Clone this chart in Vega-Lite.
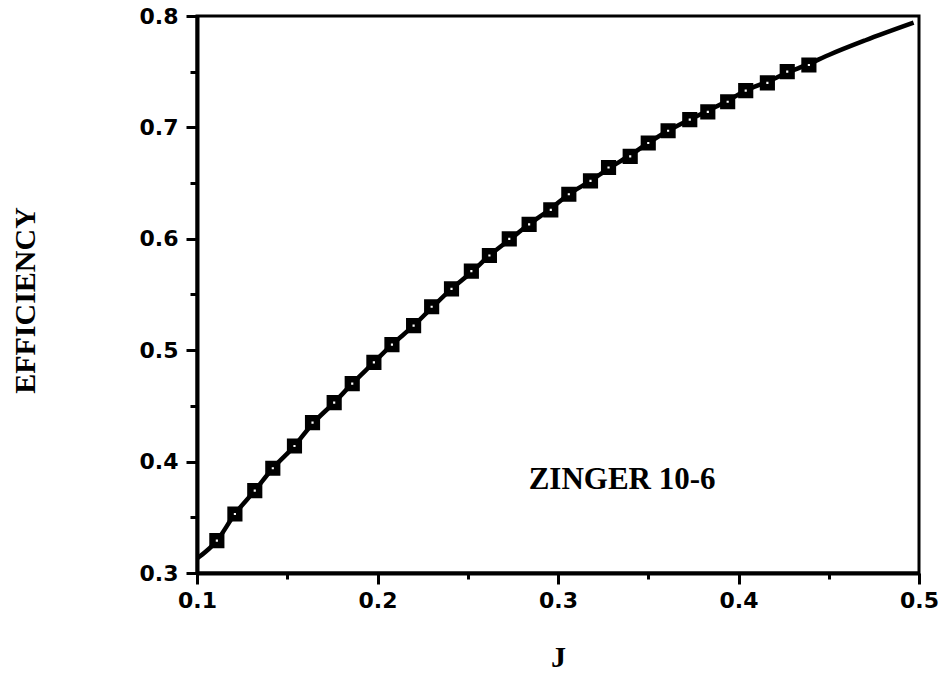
{
  "$schema": "https://vega.github.io/schema/vega-lite/v6.json",
  "autosize": "none",
  "width": 722,
  "height": 557,
  "padding": {"left": 197, "top": 16, "right": 29, "bottom": 102},
  "background": "white",
  "config": {
    "view": {"stroke": "black", "strokeWidth": 3},
    "axis": {
      "grid": false,
      "domainColor": "black",
      "domainWidth": 4,
      "tickColor": "black",
      "tickWidth": 3,
      "labelFont": "DejaVu Sans",
      "labelFontSize": 22,
      "labelFontWeight": "bold",
      "labelColor": "black",
      "labelFlush": false,
      "labelOverlap": false,
      "titleFont": "Liberation Serif",
      "titleFontWeight": "bold",
      "titleColor": "black",
      "titleFontSize": 30
    }
  },
  "datasets": {
    "curve": [
      {"J": 0.100, "eff": 0.313},
      {"J": 0.111, "eff": 0.329},
      {"J": 0.121, "eff": 0.353},
      {"J": 0.132, "eff": 0.374},
      {"J": 0.142, "eff": 0.394},
      {"J": 0.154, "eff": 0.414},
      {"J": 0.164, "eff": 0.434},
      {"J": 0.176, "eff": 0.453},
      {"J": 0.186, "eff": 0.470},
      {"J": 0.198, "eff": 0.489},
      {"J": 0.208, "eff": 0.505},
      {"J": 0.220, "eff": 0.522},
      {"J": 0.230, "eff": 0.538},
      {"J": 0.241, "eff": 0.555},
      {"J": 0.252, "eff": 0.570},
      {"J": 0.262, "eff": 0.585},
      {"J": 0.273, "eff": 0.599},
      {"J": 0.284, "eff": 0.613},
      {"J": 0.296, "eff": 0.627},
      {"J": 0.306, "eff": 0.640},
      {"J": 0.318, "eff": 0.652},
      {"J": 0.328, "eff": 0.663},
      {"J": 0.340, "eff": 0.675},
      {"J": 0.350, "eff": 0.686},
      {"J": 0.361, "eff": 0.697},
      {"J": 0.373, "eff": 0.707},
      {"J": 0.383, "eff": 0.715},
      {"J": 0.394, "eff": 0.724},
      {"J": 0.404, "eff": 0.733},
      {"J": 0.416, "eff": 0.741},
      {"J": 0.427, "eff": 0.749},
      {"J": 0.439, "eff": 0.757},
      {"J": 0.450, "eff": 0.765},
      {"J": 0.470, "eff": 0.778},
      {"J": 0.497, "eff": 0.794}
    ],
    "points": [
      {"J": 0.111, "eff": 0.329},
      {"J": 0.121, "eff": 0.353},
      {"J": 0.132, "eff": 0.374},
      {"J": 0.142, "eff": 0.394},
      {"J": 0.154, "eff": 0.414},
      {"J": 0.164, "eff": 0.435},
      {"J": 0.176, "eff": 0.453},
      {"J": 0.186, "eff": 0.470},
      {"J": 0.198, "eff": 0.489},
      {"J": 0.208, "eff": 0.505},
      {"J": 0.220, "eff": 0.522},
      {"J": 0.230, "eff": 0.539},
      {"J": 0.241, "eff": 0.555},
      {"J": 0.252, "eff": 0.571},
      {"J": 0.262, "eff": 0.585},
      {"J": 0.273, "eff": 0.600},
      {"J": 0.284, "eff": 0.613},
      {"J": 0.296, "eff": 0.626},
      {"J": 0.306, "eff": 0.640},
      {"J": 0.318, "eff": 0.652},
      {"J": 0.328, "eff": 0.664},
      {"J": 0.340, "eff": 0.674},
      {"J": 0.350, "eff": 0.686},
      {"J": 0.361, "eff": 0.697},
      {"J": 0.373, "eff": 0.707},
      {"J": 0.383, "eff": 0.714},
      {"J": 0.394, "eff": 0.723},
      {"J": 0.404, "eff": 0.733},
      {"J": 0.416, "eff": 0.740},
      {"J": 0.427, "eff": 0.750},
      {"J": 0.439, "eff": 0.756}
    ],
    "label": [
      {"J": 0.3355, "eff": 0.3755, "text": "ZINGER 10-6"}
    ]
  },
  "layer": [
    {
      "data": {"name": "curve"},
      "mark": {"type": "line", "color": "black", "strokeWidth": 4.5, "interpolate": "monotone", "clip": true},
      "encoding": {
        "x": {
          "field": "J", "type": "quantitative",
          "scale": {"domain": [0.1, 0.5], "nice": false, "zero": false},
          "axis": {
            "title": "J",
            "titleY": 84,
            "titleBaseline": "middle",
            "values": [0.1, 0.15, 0.2, 0.25, 0.3, 0.35, 0.4, 0.45, 0.5],
            "labelExpr": "abs(datum.value*10 - round(datum.value*10)) < 0.001 ? format(datum.value, '.1f') : ''",
            "tickSize": {"condition": {"test": "abs(datum.value*10 - round(datum.value*10)) < 0.001", "value": 11}, "value": 6},
            "labelPadding": 6
          }
        },
        "y": {
          "field": "eff", "type": "quantitative",
          "scale": {"domain": [0.3, 0.8], "nice": false, "zero": false},
          "axis": {
            "title": "EFFICIENCY",
            "titleX": -172,
            "titleY": 284,
            "titleBaseline": "middle",
            "values": [0.3, 0.35, 0.4, 0.45, 0.5, 0.55, 0.6, 0.65, 0.7, 0.75, 0.8],
            "labelExpr": "abs(datum.value*10 - round(datum.value*10)) < 0.001 ? format(datum.value, '.1f') : ''",
            "tickSize": {"condition": {"test": "abs(datum.value*10 - round(datum.value*10)) < 0.001", "value": 11}, "value": 7},
            "labelPadding": 8
          }
        }
      }
    },
    {
      "data": {"name": "points"},
      "mark": {"type": "point", "shape": "square", "filled": false, "fill": "white", "fillOpacity": 1, "stroke": "black", "strokeWidth": 6.5, "size": 75, "opacity": 1},
      "encoding": {
        "x": {"field": "J", "type": "quantitative"},
        "y": {"field": "eff", "type": "quantitative"}
      }
    },
    {
      "data": {"name": "label"},
      "mark": {"type": "text", "font": "Liberation Serif", "fontWeight": "bold", "fontSize": 31, "color": "black", "align": "center", "baseline": "alphabetic"},
      "encoding": {
        "x": {"field": "J", "type": "quantitative"},
        "y": {"field": "eff", "type": "quantitative"},
        "text": {"field": "text"}
      }
    }
  ]
}
